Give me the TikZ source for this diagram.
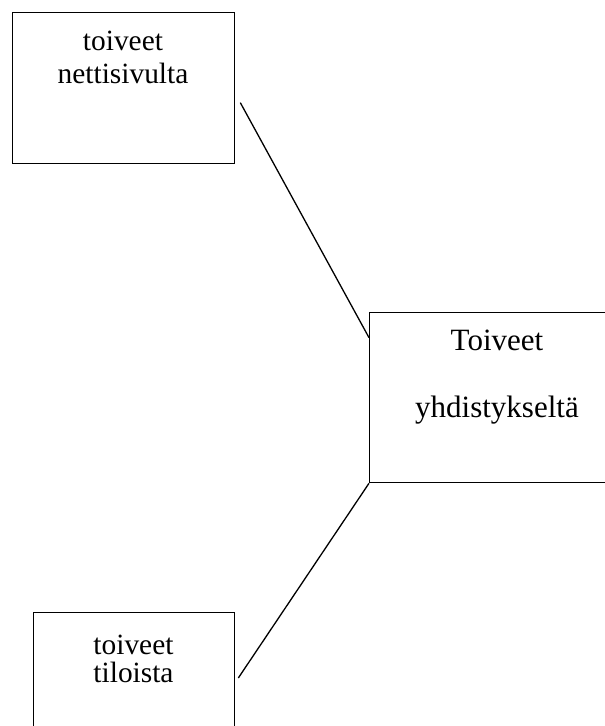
\documentclass[tikz,border=0pt]{standalone}
\usepackage{fontspec}
\setmainfont{Liberation Serif}
\usetikzlibrary{calc}
\begin{document}
\begin{tikzpicture}[x=1pt,y=1pt,
  box/.style={draw=black,line width=1.3pt,rectangle,inner sep=0pt,anchor=north west},
  smalltxt/.style={anchor=base,inner sep=0pt,font=\fontsize{29.4}{33}\selectfont},
  bigtxt/.style={anchor=base,inner sep=0pt,font=\fontsize{31}{36}\selectfont},
  link/.style={draw=black,line width=1.3pt}]
\useasboundingbox (0,0) rectangle (605,726);
\clip (0,0) rectangle (605,726);
% boxes
\node[box,minimum width=222pt,minimum height=151pt] (web) at (12,714) {};
\node[box,minimum width=256pt,minimum height=170pt] (club) at (369,414) {};
\node[box,minimum width=201pt,minimum height=140pt] (rooms) at (33,114) {};
% texts
\node[smalltxt] (t1a) at (123,675.3) {toiveet};
\node[smalltxt] (t1b) at (123,642.7) {nettisivulta};
\node[bigtxt] (t2a) at (497,375) {Toiveet};
\node[bigtxt] (t2b) at (497,308) {yhdistykseltä};
\node[smalltxt] (t3a) at (133.5,71) {toiveet};
\node[smalltxt] (t3b) at (133.5,43) {tiloista};
% connectors
\coordinate (webout) at ($(web.east)+(5,-14.5)$);
\coordinate (clubin) at ($(club.west)+(0,60)$);
\coordinate (roomsin) at ($(rooms.north east)+(3,-66)$);
\draw[link] (webout) -- (clubin);
\draw[link] (club.south west) -- (roomsin);
\end{tikzpicture}
\end{document}
